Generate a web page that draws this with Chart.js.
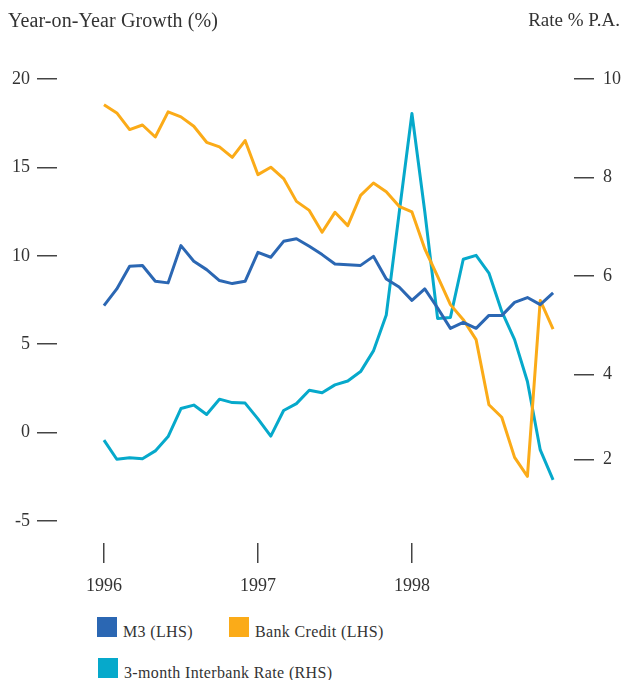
<!DOCTYPE html>
<html>
<head>
<meta charset="utf-8">
<script src="https://cdn.jsdelivr.net/npm/chart.js@4.4.0/dist/chart.umd.min.js"></script>
<style>
  body { margin: 0; background: #fff; }
  #wrap { position: relative; width: 624px; height: 680px; font-family: "Liberation Serif", serif; color: #333; }
  #wrap canvas { position: absolute; left: 0; top: 0; }
  .axisTitle { position: absolute; top: 10px; font-size: 19.5px; line-height: 20px; white-space: nowrap; }
  .legSwatch { position: absolute; width: 20px; height: 20px; }
  .legText { position: absolute; font-size: 16px; line-height: 16px; letter-spacing: 0.35px; white-space: nowrap; }
</style>
</head>
<body>
<div id="wrap">
  <canvas id="chart" width="624" height="600"></canvas>
  <div class="axisTitle" style="left:8px; font-size:20px; letter-spacing:0.1px">Year-on-Year Growth (%)</div>
  <div class="axisTitle" style="right:4px; font-size:19px">Rate % P.A.</div>
  <div id="legend"></div>
</div>
<script>
// monthly observations, Jan 1996 .. Dec 1998
const m3 = [7.18, 8.13, 9.41, 9.45, 8.56, 8.47, 10.58, 9.69, 9.22, 8.60, 8.43, 8.56,
            10.20, 9.92, 10.82, 10.97, 10.54, 10.07, 9.54, 9.50, 9.46, 9.97, 8.69, 8.24,
            7.48, 8.13, 7.05, 5.90, 6.24, 5.90, 6.63, 6.62, 7.37, 7.64, 7.24, 7.90];
const bankCredit = [18.55, 18.08, 17.14, 17.40, 16.72, 18.14, 17.86, 17.33, 16.42, 16.16, 15.57, 16.52,
                    14.59, 15.01, 14.37, 13.08, 12.57, 11.33, 12.46, 11.71, 13.42, 14.12, 13.63, 12.80,
                    12.48, 10.40, 8.84, 7.24, 6.39, 5.26, 1.58, 0.87, -1.40, -2.47, 7.48, 5.86];
const interbank = [2.67, 2.28, 2.31, 2.29, 2.45, 2.74, 3.31, 3.38, 3.19, 3.50, 3.43, 3.42,
                   3.10, 2.75, 3.27, 3.41, 3.68, 3.63, 3.79, 3.87, 4.06, 4.48, 5.21, 7.27,
                   9.30, 7.31, 5.14, 5.16, 6.34, 6.42, 6.06, 5.28, 4.71, 3.86, 2.47, 1.86];

const xTickValues = [0, 12, 24];
const xTickLabels = ['1996', '1997', '1998'];
const leftTicks = [-5, 0, 5, 10, 15, 20];
const rightTickValues = [2.28, 4, 6, 8, 10];
const rightTickLabels = ['2', '4', '6', '8', '10'];

const seriesNames = ['M3 (LHS)', 'Bank Credit (LHS)', '3-month Interbank Rate (RHS)'];
const seriesColors = ['#2b67b3', '#fbab18', '#06a9cb'];

const TEXT = '#333';
const TICK = '#444';
const tickFont = { family: '"Liberation Serif", serif', size: 18 };

function toPoints(arr) {
  return arr.map((v, i) => ({ x: i, y: v }));
}

function lineSet(idx, arr, axis) {
  return {
    label: seriesNames[idx],
    data: toPoints(arr),
    yAxisID: axis,
    borderColor: seriesColors[idx],
    backgroundColor: seriesColors[idx],
    borderWidth: 3,
    borderJoinStyle: 'round',
    pointRadius: 0,
    tension: 0,
    fill: false
  };
}

function yAxis(position, min, max, values, labels) {
  return {
    type: 'linear',
    position: position,
    min: min,
    max: max,
    border: { display: false },
    grid: { drawOnChartArea: false, drawTicks: true, tickLength: 20, color: TICK, lineWidth: 1.5 },
    ticks: {
      color: TEXT,
      font: tickFont,
      padding: position === 'left' ? 7 : 9,
      callback: (v, i) => labels[i]
    },
    afterBuildTicks: s => { s.ticks = values.map(v => ({ value: v })); },
    afterFit: s => {
      s.width = position === 'left' ? 57 : 50;
      s.paddingTop = 0;
      s.paddingBottom = 0;
    }
  };
}

const chart = new Chart(document.getElementById('chart'), {
  type: 'line',
  data: {
    datasets: [
      lineSet(0, m3, 'y'),
      lineSet(1, bankCredit, 'y'),
      lineSet(2, interbank, 'y2')
    ]
  },
  options: {
    responsive: false,
    animation: false,
    devicePixelRatio: 1,
    layout: { padding: { top: 79, left: 0, right: 0, bottom: 0 } },
    plugins: { legend: { display: false }, tooltip: { enabled: false } },
    scales: {
      x: {
        type: 'linear',
        position: 'bottom',
        min: -3.66,
        max: 36.63,
        border: { display: false },
        grid: { drawOnChartArea: false, drawTicks: true, tickLength: 20, color: TICK, lineWidth: 1.5 },
        ticks: { color: TEXT, font: tickFont, padding: 12, maxRotation: 0, callback: (v, i) => xTickLabels[i] },
        afterBuildTicks: s => { s.ticks = xTickValues.map(v => ({ value: v })); },
        afterFit: s => { s.height = 57; s.paddingLeft = 0; s.paddingRight = 0; }
      },
      y: yAxis('left', -6.24, 20, leftTicks, leftTicks.map(String)),
      y2: yAxis('right', 0.58, 10, rightTickValues, rightTickLabels)
    }
  }
});

// legend in two rows like the original
const legendSpots = [[97, 617], [229, 617], [98, 658]];
const legend = document.getElementById('legend');
chart.data.datasets.forEach((ds, i) => {
  const [lx, ly] = legendSpots[i];
  const sw = document.createElement('div');
  sw.className = 'legSwatch';
  sw.style.left = lx + 'px';
  sw.style.top = ly + 'px';
  sw.style.background = ds.borderColor;
  legend.appendChild(sw);
  const tx = document.createElement('div');
  tx.className = 'legText';
  tx.style.left = (lx + 26) + 'px';
  tx.style.top = (ly + 7) + 'px';
  tx.textContent = ds.label;
  legend.appendChild(tx);
});
</script>
</body>
</html>
